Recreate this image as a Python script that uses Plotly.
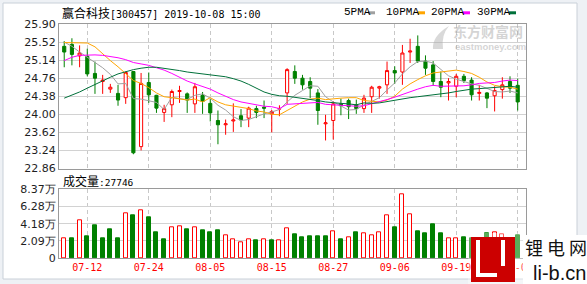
import plotly.graph_objects as go

# ---------------- data ----------------
dates = ["07-09", "07-10", "07-11", "07-12", "07-15", "07-16", "07-17", "07-18", "07-19", "07-22",
         "07-23", "07-24", "07-25", "07-26", "07-29", "07-30", "07-31", "08-01", "08-02", "08-05",
         "08-06", "08-07", "08-08", "08-09", "08-12", "08-13", "08-14", "08-15", "08-16", "08-19",
         "08-20", "08-21", "08-22", "08-23", "08-26", "08-27", "08-28", "08-29", "08-30", "09-02",
         "09-03", "09-04", "09-05", "09-06", "09-09", "09-10", "09-11", "09-12", "09-16", "09-17",
         "09-18", "09-19", "09-20", "09-23", "09-24", "09-25", "09-26", "09-27", "09-30", "10-08"]

opens = [25.43, 25.47, 25.23, 25.22, 24.86, 24.69, 24.53, 24.44, 24.35, 24.90,
         23.32, 24.67, 24.40, 24.04, 24.20, 24.48, 24.43, 24.22, 24.40, 24.23,
         23.87, 23.78, 23.86, 23.97, 23.92, 24.12, 24.15, 24.01, 24.11, 24.45,
         24.90, 24.76, 24.69, 24.45, 23.80, 23.87, 24.22, 24.29, 24.20, 24.12,
         24.37, 24.55, 24.62, 24.92, 24.89, 25.31, 25.43, 25.12, 25.04, 24.69,
         24.66, 24.59, 24.80, 24.72, 24.44, 24.45, 24.39, 24.52, 24.69, 24.61]
highs = [25.54, 25.60, 25.45, 25.38, 25.11, 24.83, 24.64, 24.62, 24.90, 24.91,
         24.87, 24.88, 24.41, 24.20, 24.52, 24.60, 24.46, 24.66, 24.47, 24.32,
         24.08, 23.89, 24.23, 24.11, 24.16, 24.18, 24.29, 24.09, 24.19, 24.97,
         25.03, 24.83, 24.78, 24.53, 23.99, 24.27, 24.33, 24.33, 24.31, 24.41,
         24.60, 24.60, 25.11, 25.01, 25.46, 25.59, 25.66, 25.24, 25.12, 24.90,
         24.76, 24.85, 24.85, 24.78, 24.62, 24.47, 24.59, 24.78, 24.80, 24.75]
lows = [24.99, 25.03, 24.99, 24.80, 24.43, 24.43, 24.45, 24.18, 24.22, 23.16,
        23.24, 24.24, 24.03, 23.84, 23.94, 24.24, 24.03, 24.03, 24.01, 23.85,
        23.37, 23.57, 23.63, 23.73, 23.73, 23.92, 23.92, 23.62, 23.96, 24.22,
        24.64, 24.52, 24.34, 23.78, 23.45, 23.47, 23.98, 23.90, 24.01, 24.03,
        24.03, 24.33, 24.43, 24.64, 24.62, 25.08, 25.08, 24.83, 24.60, 24.36,
        24.29, 24.36, 24.66, 24.29, 24.29, 24.13, 24.06, 24.33, 24.45, 24.08]
closes = [25.31, 25.26, 25.29, 24.85, 24.76, 24.72, 24.57, 24.30, 24.88, 23.19,
          24.65, 24.41, 24.13, 24.12, 24.48, 24.50, 24.30, 24.58, 24.27, 24.03,
          23.78, 23.80, 23.88, 23.88, 24.13, 24.04, 24.13, 24.06, 24.12, 24.94,
          24.76, 24.62, 24.55, 24.08, 23.82, 24.22, 24.18, 24.16, 24.12, 24.34,
          24.57, 24.58, 24.92, 24.87, 25.29, 25.33, 25.12, 24.97, 24.69, 24.57,
          24.69, 24.80, 24.71, 24.41, 24.46, 24.34, 24.50, 24.62, 24.55, 24.26]

ma5 = [25.52, 25.43, 25.31, 25.20, 25.09, 24.98, 24.84, 24.64, 24.65, 24.33,
       24.32, 24.29, 24.25, 24.10, 24.36, 24.33, 24.31, 24.40, 24.43, 24.34,
       24.19, 24.09, 23.95, 23.87, 23.89, 23.95, 24.01, 24.05, 24.10, 24.26,
       24.40, 24.50, 24.60, 24.59, 24.37, 24.26, 24.17, 24.09, 24.10, 24.20,
       24.27, 24.35, 24.51, 24.66, 24.85, 25.00, 25.11, 25.12, 25.08, 24.94,
       24.81, 24.74, 24.69, 24.64, 24.61, 24.54, 24.48, 24.47, 24.49, 24.45]
ma10 = [25.51, 25.51, 25.51, 25.50, 25.42, 25.27, 25.13, 25.00, 24.85, 24.71,
        24.65, 24.56, 24.45, 24.37, 24.35, 24.32, 24.30, 24.32, 24.26, 24.35,
        24.26, 24.20, 24.17, 24.15, 24.12, 24.07, 24.05, 24.00, 23.99, 24.08,
        24.17, 24.26, 24.32, 24.34, 24.31, 24.33, 24.34, 24.35, 24.35, 24.29,
        24.27, 24.26, 24.30, 24.38, 24.53, 24.64, 24.73, 24.81, 24.87, 24.89,
        24.90, 24.93, 24.90, 24.86, 24.78, 24.68, 24.61, 24.58, 24.57, 24.53]
ma20 = [25.13, 25.20, 25.24, 25.25, 25.25, 25.24, 25.22, 25.19, 25.15, 25.09,
        25.06, 25.03, 24.98, 24.93, 24.86, 24.78, 24.70, 24.64, 24.58, 24.53,
        24.45, 24.38, 24.31, 24.26, 24.23, 24.20, 24.17, 24.16, 24.12, 24.21,
        24.22, 24.23, 24.25, 24.25, 24.21, 24.20, 24.19, 24.17, 24.17, 24.18,
        24.22, 24.26, 24.31, 24.36, 24.42, 24.48, 24.53, 24.58, 24.61, 24.59,
        24.59, 24.59, 24.60, 24.62, 24.65, 24.66, 24.67, 24.70, 24.72, 24.71]
ma30 = [24.34, 24.40, 24.47, 24.55, 24.63, 24.71, 24.78, 24.85, 24.90, 24.94,
        24.97, 24.99, 24.99, 24.97, 24.95, 24.92, 24.89, 24.87, 24.86, 24.84,
        24.81, 24.79, 24.75, 24.70, 24.63, 24.55, 24.47, 24.42, 24.39, 24.38,
        24.36, 24.34, 24.31, 24.29, 24.26, 24.24, 24.23, 24.22, 24.20, 24.24,
        24.23, 24.24, 24.27, 24.29, 24.32, 24.35, 24.37, 24.39, 24.40, 24.42,
        24.45, 24.48, 24.51, 24.53, 24.54, 24.55, 24.56, 24.58, 24.59, 24.57]

volume_wan = [2.34, 2.38, 4.65, 2.70, 4.04, 2.34, 3.55, 2.34, 5.49, 5.25,
              5.86, 5.01, 3.11, 2.22, 3.76, 3.92, 3.55, 3.68, 3.43, 3.11,
              3.43, 2.79, 2.22, 1.89, 2.22, 2.10, 2.22, 2.10, 2.10, 3.64,
              2.83, 2.58, 2.70, 2.70, 2.70, 3.31, 2.22, 2.55, 3.19, 3.07,
              2.79, 3.19, 5.25, 3.68, 7.80, 5.37, 3.31, 3.07, 4.16, 3.07,
              2.46, 2.46, 2.58, 2.46, 2.40, 2.95, 3.17, 2.83, 2.30, 2.77]
volume_up = [1, 0, 1, 0, 0, 0, 0, 0, 1, 0,
             1, 0, 0, 0, 1, 1, 0, 1, 0, 0,
             0, 1, 1, 1, 1, 0, 1, 0, 1, 1,
             0, 0, 0, 0, 0, 1, 0, 1, 0, 1,
             1, 1, 1, 0, 1, 1, 0, 0, 0, 0,
             1, 1, 0, 0, 1, 0, 1, 1, 0, 0]

price_ticks = [22.86, 23.24, 23.62, 24.00, 24.38, 24.76, 25.14, 25.52, 25.90]
vol_ticks = [0, 2.09, 4.18, 6.28, 8.37]
vol_tick_text = ["0", "2.09万", "4.18万", "6.28万", "8.37万"]
x_tick_dates = ["07-12", "07-24", "08-05", "08-15", "08-27", "09-06", "09-19", "10-08"]
ma_names = ["5PMA", "10PMA", "20PMA", "30PMA"]
ma_colors = ["#a0a0a0", "#ffa500", "#ff00ff", "#00703a"]
title_name = "赢合科技"
title_rest = "[300457] 2019-10-08 15:00"
volume_label = "成交量"
latest_volume = 27746

# ---------------- geometry helpers ----------------
W, H = 587, 284
ML, MR, MT, MB = 59, 61, 24, 26
PW, PH = W - ML - MR, H - MT - MB


def px(x):
    return (x - ML) / PW


def py(y):
    return (H - MB - y) / PH


RED = "#ff0000"
GREEN = "#008000"
GRID = "#d2d2d2"
BORDER = "#9a9a9a"
CJK = "Noto Sans CJK SC"

fig = go.Figure()

fig.add_trace(go.Candlestick(
    x=dates, open=opens, high=highs, low=lows, close=closes,
    increasing=dict(line=dict(color=RED, width=1), fillcolor="#ffffff"),
    decreasing=dict(line=dict(color=GREEN, width=1), fillcolor=GREEN),
    whiskerwidth=0, xaxis="x", yaxis="y", hoverinfo="skip",
))
for vals, col in zip([ma5, ma10, ma20, ma30], ma_colors):
    fig.add_trace(go.Scatter(x=dates, y=vals, mode="lines",
                             line=dict(color=col, width=1),
                             xaxis="x", yaxis="y", hoverinfo="skip"))

fig.add_trace(go.Bar(
    x=dates, y=volume_wan, width=0.52,
    marker=dict(color=["#ffffff" if u else GREEN for u in volume_up],
                line=dict(color=[RED if u else GREEN for u in volume_up], width=1)),
    xaxis="x2", yaxis="y2", hoverinfo="skip",
))

xr = [-0.68, 60.08]
common_x = dict(type="category", categoryorder="array", categoryarray=dates,
                range=xr, tickvals=x_tick_dates, ticktext=x_tick_dates,
                showgrid=True, gridcolor="#c8c8c8", griddash="4px,3px", gridwidth=1,
                showline=True, linecolor=BORDER, linewidth=1, mirror=True,
                zeroline=False, ticks="", fixedrange=True)
common_y = dict(showgrid=True, gridcolor=GRID, gridwidth=1, showline=True,
                linecolor=BORDER, linewidth=1, mirror=True, zeroline=False,
                ticks="", tickfont=dict(family="DejaVu Sans", size=11, color="#1e1e1e"),
                fixedrange=True)

fig.update_layout(
    width=W, height=H,
    margin=dict(l=ML, r=MR, t=MT, b=MB, pad=0),
    paper_bgcolor="#eef1f5", plot_bgcolor="rgba(0,0,0,0)",
    showlegend=False, boxgap=0.42, bargap=0,
    xaxis=dict(common_x, anchor="y", domain=[0, 1], showticklabels=False,
               rangeslider=dict(visible=False)),
    yaxis=dict(common_y, anchor="x", domain=[py(168.5), 1], range=[22.86, 25.90],
               tickvals=price_ticks, ticktext=["%.2f" % v for v in price_ticks]),
    xaxis2=dict(common_x, anchor="y2", domain=[0, 1], showticklabels=True,
                tickfont=dict(family="DejaVu Sans Mono", size=10, color=RED)),
    yaxis2=dict(common_y, anchor="x2", domain=[0, py(189.3)], range=[0, 8.37],
                tickvals=vol_ticks, ticktext=vol_tick_text),
)

shapes = []
# outer frame
shapes.append(dict(type="rect", xref="paper", yref="paper", layer="below",
                   x0=px(3), x1=px(577), y0=py(279), y1=py(3),
                   fillcolor="#ffffff", line=dict(color="#c9d0d8", width=1)))
annotations = []

# title
annotations.append(dict(
    xref="paper", yref="paper", x=px(60), y=py(12.5), xanchor="left", yanchor="middle",
    showarrow=False,
    text="<span style='font-family:Noto Sans CJK SC;font-size:12px'>%s</span>%s" % (title_name, title_rest),
    font=dict(family="DejaVu Sans Mono", size=10, color="#000000")))

# MA legend
legend_x = [342.3, 384.3, 429.3, 475.0]
legend_mark = [368.0, 418.0, 463.0, 509.0]
for name, col, lx, mx in zip(ma_names, ma_colors, legend_x, legend_mark):
    annotations.append(dict(xref="paper", yref="paper", x=px(lx), y=py(12.5),
                            xanchor="left", yanchor="middle", showarrow=False, text=name,
                            font=dict(family="Liberation Mono", size=11, color="#000000")))
    shapes.append(dict(type="rect", xref="paper", yref="paper",
                       x0=px(mx), x1=px(mx + 7), y0=py(14.3), y1=py(11.3),
                       fillcolor=col, line=dict(width=0)))

# volume label
annotations.append(dict(
    xref="paper", yref="paper", x=px(61), y=py(180.5), xanchor="left", yanchor="middle",
    showarrow=False,
    text="<span style='font-family:Noto Sans CJK SC;font-size:12px'>%s</span>:%d" % (volume_label, latest_volume),
    font=dict(family="DejaVu Sans Mono", size=9.5, color="#000000")))

# eastmoney watermark
annotations.append(dict(xref="paper", yref="paper", x=px(488), y=py(31),
                        xanchor="center", yanchor="middle", showarrow=False,
                        text="<b>东方财富网</b>",
                        font=dict(family=CJK, size=14, color="rgba(170,170,170,0.5)")))
annotations.append(dict(xref="paper", yref="paper", x=px(490), y=py(46.5),
                        xanchor="center", yanchor="middle", showarrow=False,
                        text="<b>eastmoney.com</b>",
                        font=dict(family="Liberation Sans", size=9.5, color="rgba(170,170,170,0.5)")))
sw = [(433, 49), (432, 36), (449, 26), (441, 35), (443, 49)]
path = "M %f,%f Q %f,%f %f,%f Q %f,%f %f,%f Z" % (
    px(sw[0][0]), py(sw[0][1]), px(sw[1][0]), py(sw[1][1]), px(sw[2][0]), py(sw[2][1]),
    px(sw[3][0]), py(sw[3][1]), px(sw[4][0]), py(sw[4][1]))
shapes.append(dict(type="path", xref="paper", yref="paper", path=path,
                   fillcolor="rgba(170,170,170,0.45)", line=dict(width=0)))

# li-b.cn watermark
shapes.append(dict(type="rect", xref="paper", yref="paper",
                   x0=px(468), x1=px(523), y0=py(284), y1=py(233),
                   fillcolor="rgba(255,255,255,0.35)", line=dict(width=0)))
shapes.append(dict(type="rect", xref="paper", yref="paper",
                   x0=px(523), x1=px(587), y0=py(284), y1=py(235),
                   fillcolor="#ffffff", line=dict(width=0)))
shapes.append(dict(type="rect", xref="paper", yref="paper",
                   x0=px(471), x1=px(515), y0=py(282), y1=py(237),
                   fillcolor="#cc0000", line=dict(width=0)))
for (a, b, c, d) in [(476, 240, 480, 277), (476, 273, 497, 277), (501, 240, 505, 266)]:
    shapes.append(dict(type="rect", xref="paper", yref="paper",
                       x0=px(a), x1=px(c), y0=py(d), y1=py(b),
                       fillcolor="#ffffff", line=dict(width=0)))
annotations.append(dict(xref="paper", yref="paper", x=px(556), y=py(247),
                        xanchor="center", yanchor="middle", showarrow=False,
                        text="锂 电 网",
                        font=dict(family=CJK, size=18, color="#111111")))
annotations.append(dict(xref="paper", yref="paper", x=px(559.5), y=py(272.5),
                        xanchor="center", yanchor="middle", showarrow=False,
                        text="li-b.cn",
                        font=dict(family="Liberation Sans", size=20, color="#111111")))

fig.update_layout(shapes=shapes, annotations=annotations)

fig.write_html("out.html")
